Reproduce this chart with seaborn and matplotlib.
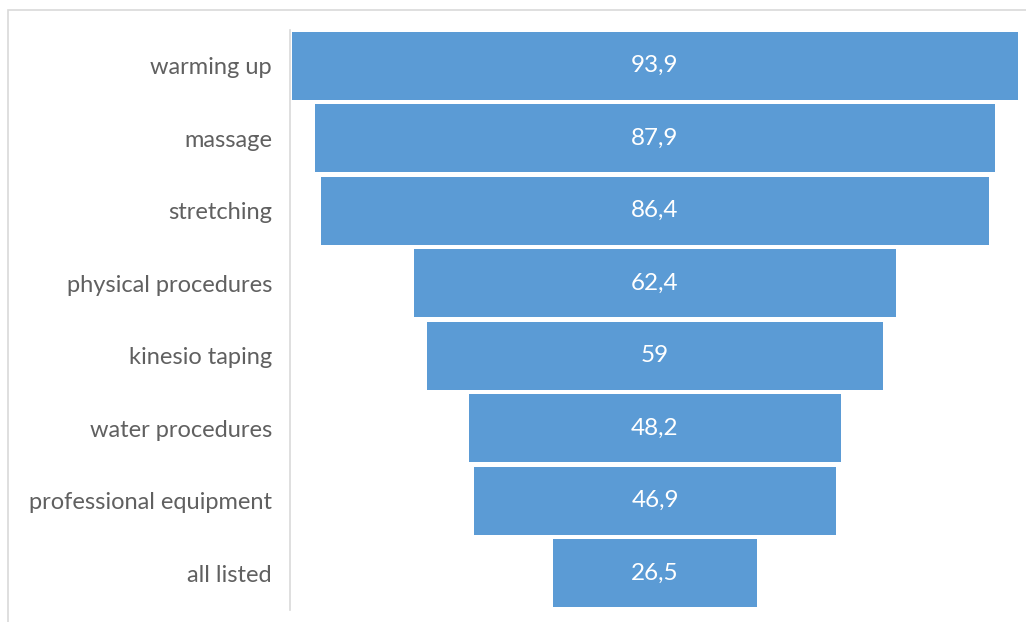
import numpy as np
import pandas as pd
import matplotlib
matplotlib.use("Agg")
import matplotlib.pyplot as plt
from matplotlib.patches import Rectangle
import seaborn as sns

categories = ["warming up", "massage", "stretching", "physical procedures",
              "kinesio taping", "water procedures", "professional equipment",
              "all listed"]
values = [93.9, 87.9, 86.4, 62.4, 59, 48.2, 46.9, 26.5]
value_labels = ["93,9", "87,9", "86,4", "62,4", "59", "48,2", "46,9", "26,5"]

sns.set_theme(style="white")
plt.rcParams["font.family"] = ["Lato", "DejaVu Sans"]

df = pd.DataFrame({"category": categories, "value": values})
vals = np.array(values)

W, H = 1026, 622
fig = plt.figure(figsize=(W / 100, H / 100), dpi=100)
ax = fig.add_axes([290 / W, 1 - 609.5 / H, 730 / W, 580 / H])

# funnel: each bar centred on zero
sns.barplot(data=df, x="value", y="category", orient="y", ax=ax,
            color="#5B9BD5", saturation=1, width=0.935,
            left=-vals / 2, linewidth=0)

half = 94.4 / 2
ax.set_xlim(-half, half)
ax.set_ylim(len(categories) - 0.5, -0.5)

for i, (v, lab) in enumerate(zip(values, value_labels)):
    ax.text(0, i, lab, ha="center", va="center", color="white", fontsize=17.5)

ax.set_xlabel("")
ax.set_ylabel("")
ax.set_xticks([])
ax.tick_params(axis="y", length=0, pad=13, labelsize=17, labelcolor="#606060")
for s in ["top", "right", "bottom"]:
    ax.spines[s].set_visible(False)
ax.spines["left"].set_color("#d9d9d9")
ax.spines["left"].set_linewidth(1.2)

# outer chart frame
fig.patches.append(Rectangle((8 / W, -0.1), 1.2, 1 - 10 / H + 0.1,
                             transform=fig.transFigure, fill=False,
                             edgecolor="#d9d9d9", linewidth=1.2))

fig.savefig("out.png", dpi=100, facecolor="white")
